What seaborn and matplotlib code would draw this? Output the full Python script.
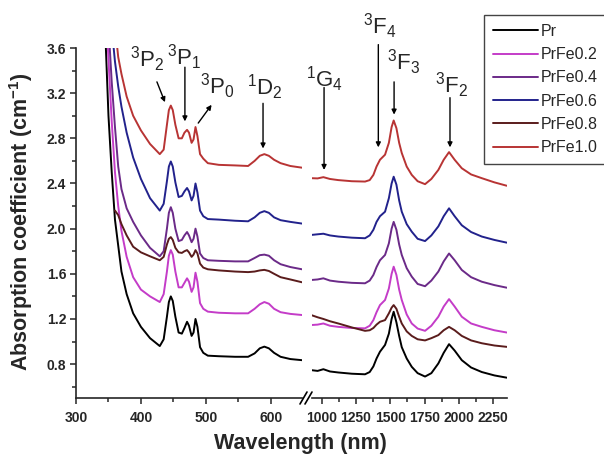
import numpy as np
import pandas as pd
import matplotlib
matplotlib.use("Agg")
import matplotlib.pyplot as plt
import seaborn as sns
from matplotlib.ticker import MultipleLocator, FormatStrFormatter
from matplotlib.lines import Line2D

# ---------------------------------------------------------------- data
series_names = ["Pr", "PrFe0.2", "PrFe0.4", "PrFe0.6", "PrFe0.8", "PrFe1.0"]
series_colors = ["#000000", "#C43CC8", "#6B2A88", "#22228C", "#5A1C1C", "#B83434"]

# UV-visible range, wavelength in nm
wl_vis = [340, 345, 350, 355, 360, 365, 370, 378, 388, 400, 414, 429,
          435, 440, 443, 446, 449, 453, 458, 463, 467, 471, 474, 478, 481,
          484, 487, 491, 496, 503, 520, 545, 565, 575, 583, 590, 597, 605,
          615, 630, 648]

pr_vis = [4.4, 3.75, 3.0, 2.5, 2.08, 1.85, 1.62, 1.42, 1.25, 1.13, 1.03, 0.96,
          1.02, 1.22, 1.35, 1.40, 1.36, 1.22, 1.08, 1.07, 1.12, 1.175, 1.14,
          1.05, 1.08, 1.20, 1.13, 0.95, 0.90, 0.875, 0.87, 0.865, 0.865, 0.895,
          0.94, 0.955, 0.94, 0.90, 0.865, 0.845, 0.835]
prfe02_vis = [4.6, 4.1, 3.5, 2.95, 2.5, 2.2, 1.98, 1.75, 1.57, 1.46, 1.40, 1.35,
              1.42, 1.62, 1.76, 1.81, 1.77, 1.62, 1.48, 1.48, 1.52, 1.56, 1.53,
              1.44, 1.48, 1.61, 1.53, 1.34, 1.29, 1.265, 1.255, 1.25, 1.25, 1.29,
              1.33, 1.35, 1.335, 1.29, 1.26, 1.245, 1.235]
prfe04_vis = [4.8, 4.3, 3.8, 3.3, 2.9, 2.55, 2.35, 2.18, 2.06, 1.94, 1.83, 1.755,
              1.80, 2.0, 2.14, 2.19, 2.14, 2.0, 1.89, 1.90, 1.94, 1.97, 1.94,
              1.88, 1.91, 2.0, 1.93, 1.78, 1.74, 1.72, 1.715, 1.71, 1.71, 1.74,
              1.765, 1.77, 1.76, 1.72, 1.685, 1.66, 1.64]
prfe06_vis = [5.2, 4.7, 4.2, 3.78, 3.48, 3.26, 3.08, 2.85, 2.63, 2.44, 2.27, 2.16,
              2.22, 2.42, 2.55, 2.595, 2.55, 2.41, 2.28, 2.29, 2.33, 2.36, 2.33,
              2.25, 2.29, 2.40, 2.32, 2.16, 2.11, 2.085, 2.08, 2.07, 2.065, 2.10,
              2.14, 2.155, 2.14, 2.10, 2.075, 2.06, 2.045]
prfe08_vis = [np.nan, np.nan, np.nan, np.nan, 2.16, 2.12, 2.04, 1.94, 1.84, 1.79, 1.755, 1.72,
              1.75, 1.86, 1.91, 1.925, 1.90, 1.83, 1.79, 1.785, 1.80, 1.81, 1.79,
              1.75, 1.77, 1.81, 1.78, 1.69, 1.655, 1.64, 1.63, 1.62, 1.615, 1.62,
              1.63, 1.635, 1.625, 1.60, 1.57, 1.55, 1.525]
prfe10_vis = [5.0, 4.6, 4.3, 4.0, 3.8, 3.52, 3.37, 3.17, 3.0, 2.87, 2.75, 2.66,
              2.70, 2.92, 3.05, 3.09, 3.05, 2.92, 2.80, 2.80, 2.85, 2.875, 2.85,
              2.76, 2.79, 2.90, 2.82, 2.66, 2.62, 2.58, 2.565, 2.56, 2.555, 2.60,
              2.645, 2.66, 2.645, 2.61, 2.58, 2.555, 2.54]

# near-infrared range, wavelength in nm
wl_nir = [922, 970, 1012, 1060, 1121, 1220, 1316, 1350, 1377, 1400, 1425, 1462,
          1490, 1510, 1525, 1545, 1565, 1584, 1620, 1657, 1700, 1754, 1800,
          1851, 1890, 1929, 1970, 2022, 2090, 2168, 2260, 2350]

pr_nir = [0.747, 0.74, 0.755, 0.735, 0.726, 0.715, 0.71, 0.73, 0.78, 0.85, 0.91,
          0.97, 1.07, 1.20, 1.264, 1.17, 1.05, 0.95, 0.85, 0.776, 0.72, 0.69,
          0.72, 0.806, 0.90, 0.977, 0.92, 0.835, 0.77, 0.73, 0.70, 0.68]
prfe02_nir = [1.146, 1.15, 1.16, 1.14, 1.13, 1.12, 1.117, 1.14, 1.19, 1.26, 1.323,
              1.368, 1.47, 1.60, 1.663, 1.59, 1.46, 1.368, 1.24, 1.16, 1.115, 1.095,
              1.14, 1.22, 1.31, 1.376, 1.31, 1.22, 1.16, 1.13, 1.10, 1.08]
prfe04_nir = [1.545, 1.55, 1.56, 1.54, 1.53, 1.52, 1.516, 1.54, 1.59, 1.66, 1.72,
              1.767, 1.87, 2.0, 2.06, 1.99, 1.86, 1.767, 1.65, 1.575, 1.51, 1.49,
              1.54, 1.62, 1.71, 1.78, 1.72, 1.634, 1.57, 1.53, 1.50, 1.477]
prfe06_nir = [1.944, 1.95, 1.955, 1.94, 1.93, 1.92, 1.915, 1.94, 1.99, 2.06, 2.11,
              2.15, 2.27, 2.40, 2.46, 2.39, 2.25, 2.15, 2.04, 1.973, 1.91, 1.89,
              1.94, 2.02, 2.11, 2.18, 2.11, 2.03, 1.97, 1.93, 1.90, 1.876]
prfe08_nir = [1.235, 1.215, 1.20, 1.18, 1.16, 1.125, 1.095, 1.10, 1.12, 1.15, 1.175,
              1.19, 1.25, 1.30, 1.323, 1.29, 1.22, 1.16, 1.09, 1.05, 1.02, 1.01,
              1.03, 1.057, 1.10, 1.13, 1.10, 1.05, 1.01, 0.985, 0.965, 0.953]
prfe10_nir = [2.447, 2.445, 2.456, 2.44, 2.43, 2.42, 2.417, 2.43, 2.476, 2.55, 2.61,
              2.655, 2.76, 2.90, 2.958, 2.89, 2.76, 2.67, 2.55, 2.476, 2.42, 2.394,
              2.44, 2.52, 2.61, 2.678, 2.61, 2.535, 2.48, 2.447, 2.41, 2.38]

vis_values = [pr_vis, prfe02_vis, prfe04_vis, prfe06_vis, prfe08_vis, prfe10_vis]
nir_values = [pr_nir, prfe02_nir, prfe04_nir, prfe06_nir, prfe08_nir, prfe10_nir]


def long_frame(wl, values):
    frames = []
    for name, vals in zip(series_names, values):
        frames.append(pd.DataFrame({"wavelength": wl, "absorption": vals, "sample": name}))
    return pd.concat(frames, ignore_index=True).dropna()


df_vis = long_frame(wl_vis, vis_values)
df_nir = long_frame(wl_nir, nir_values)

# ---------------------------------------------------------------- style
sns.set_style("ticks")
plt.rcParams["font.family"] = ["Liberation Sans", "DejaVu Sans"]
plt.rcParams["mathtext.fontset"] = "custom"
plt.rcParams["mathtext.rm"] = "Liberation Sans"
plt.rcParams["mathtext.it"] = "Liberation Sans:italic"
plt.rcParams["mathtext.bf"] = "Liberation Sans:bold"
plt.rcParams["mathtext.default"] = "regular"

W, H = 604, 455
fig = plt.figure(figsize=(W / 100, H / 100), dpi=100)


def fx(px):
    return px / W


def fy(py):
    return 1 - py / H


y_lo, y_hi = 0.5, 3.6
ax_l = fig.add_axes([fx(76), fy(398), fx(302) - fx(76), fy(48) - fy(398)])
ax_r = fig.add_axes([fx(312), fy(398), fx(507) - fx(312), fy(48) - fy(398)])

palette = dict(zip(series_names, series_colors))
for ax, df in ((ax_l, df_vis), (ax_r, df_nir)):
    sns.lineplot(data=df, x="wavelength", y="absorption", hue="sample",
                 hue_order=series_names, palette=palette, estimator=None,
                 sort=False, legend=False, lw=1.4, ax=ax)
    ax.set_ylim(y_lo, y_hi)
    ax.set_xlabel("")
    ax.set_ylabel("")
    for s in ("top", "right"):
        ax.spines[s].set_visible(False)
    for s in ("left", "bottom"):
        ax.spines[s].set_linewidth(1.2)
    ax.tick_params(which="both", direction="out", width=1.1, labelsize=10)
    ax.tick_params(which="major", length=4, pad=3)
    ax.tick_params(which="minor", length=3)
    ax.tick_params(axis="x", which="major", pad=5)

ax_l.set_xlim(300, 648)
ax_l.xaxis.set_major_locator(MultipleLocator(100))
ax_l.xaxis.set_minor_locator(MultipleLocator(50))
ax_l.set_yticks(np.arange(0.8, 3.61, 0.4))
ax_l.set_yticks(np.arange(0.6, 3.5, 0.4), minor=True)
ax_l.yaxis.set_major_formatter(FormatStrFormatter("%.1f"))

ax_r.set_xlim(929, 2352)
ax_r.xaxis.set_major_locator(MultipleLocator(250))
ax_r.xaxis.set_minor_locator(MultipleLocator(125))
ax_r.spines["left"].set_visible(False)
ax_r.tick_params(axis="y", which="both", left=False, labelleft=False)

for ax in (ax_l, ax_r):
    for lab in ax.get_xticklabels() + ax.get_yticklabels():
        lab.set_fontweight("bold")

# axis break marks
for x0 in (300, 305):
    fig.add_artist(Line2D([fx(x0), fx(x0 + 7)], [fy(404), fy(392)],
                          color="black", lw=1.2))

# axis titles
fig.text(fx(21), fy(222), r"Absorption coefficient (cm$^{\mathbf{-1}}$)",
         rotation=90, ha="center", va="center", fontsize=15.5, fontweight="bold")
fig.text(fx(300), fy(443), "Wavelength (nm)", ha="center", va="center",
         fontsize=15.5, fontweight="bold")

# transition labels
arrow_kw = dict(arrowstyle="-|>", color="black", lw=1.0, mutation_scale=7,
                shrinkA=0, shrinkB=0)


def level(ax, label, text_xy, tail, head):
    ax.text(*text_xy, label, ha="center", va="center", fontsize=16,
            clip_on=False)
    ax.annotate("", xy=head, xytext=tail, arrowprops=arrow_kw,
                annotation_clip=False)


level(ax_l, r"$^{3}$P$_{2}$", (410, 3.50), (424.6, 3.30), (437, 3.12))
level(ax_l, r"$^{3}$P$_{1}$", (466, 3.52), (467.7, 3.43), (467.7, 2.95))
level(ax_l, r"$^{3}$P$_{0}$", (517, 3.26), (488.2, 2.935), (508.8, 3.097))
level(ax_l, r"$^{1}$D$_{2}$", (591, 3.25), (588, 3.11), (588, 2.71))
level(ax_r, r"$^{1}$G$_{4}$", (1024, 3.32), (1017, 3.25), (1017, 2.52))
level(ax_r, r"$^{3}$F$_{4}$", (1425, 3.79), (1413, 3.63), (1413, 2.72))
level(ax_r, r"$^{3}$F$_{3}$", (1600, 3.47), (1528, 3.30), (1528, 3.01))
level(ax_r, r"$^{3}$F$_{2}$", (1951, 3.27), (1936, 3.16), (1936, 2.72))

# legend
handles = [Line2D([], [], color=c, lw=1.4) for c in series_colors]
leg = fig.legend(handles, series_names, loc="upper left",
                 bbox_to_anchor=(fx(484), fy(15)), frameon=True, fancybox=False,
                 edgecolor="#444444", framealpha=1, fontsize=11.5,
                 handlelength=2.8, handletextpad=0.2, labelspacing=0.52,
                 borderpad=0.55, borderaxespad=0)
leg.get_frame().set_linewidth(1.0)

fig.savefig("out.png", dpi=100)
